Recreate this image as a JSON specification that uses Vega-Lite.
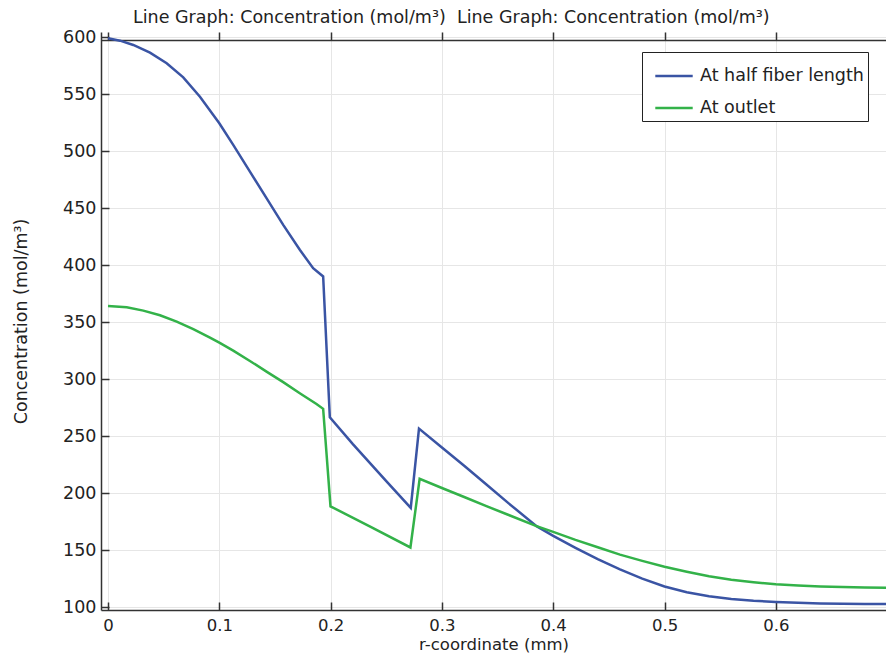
{
  "$schema": "https://vega.github.io/schema/vega-lite/v6.json",
  "width": 785,
  "height": 578,
  "autosize": "none",
  "padding": {"left": 101, "top": 32, "right": 0, "bottom": 44},
  "background": "white",
  "title": {
    "text": "Line Graph: Concentration (mol/m³) \u00a0Line Graph: Concentration (mol/m³)",
    "anchor": "start",
    "frame": "group",
    "dx": 32,
    "offset": 2,
    "font": "DejaVu Sans",
    "fontSize": 17.5,
    "fontWeight": "normal",
    "color": "#222222"
  },
  "config": {
    "view": {"stroke": null},
    "font": "DejaVu Sans",
    "axis": {
      "labelFont": "DejaVu Sans",
      "titleFont": "DejaVu Sans",
      "labelFontSize": 17.5,
      "titleFontSize": 17.5,
      "titleFontWeight": "normal",
      "labelColor": "#222222",
      "titleColor": "#222222",
      "gridColor": "#e6e6e6",
      "gridWidth": 1,
      "domainColor": "#333333",
      "domainWidth": 1.5,
      "tickColor": "#333333",
      "tickWidth": 1.5
    }
  },
  "data": {
    "values": [
      {"r": 0, "c": 599.3, "series": "At half fiber length"},
      {"r": 0.0108, "c": 597.2, "series": "At half fiber length"},
      {"r": 0.0227, "c": 593.4, "series": "At half fiber length"},
      {"r": 0.0377, "c": 586.7, "series": "At half fiber length"},
      {"r": 0.0527, "c": 577.4, "series": "At half fiber length"},
      {"r": 0.0676, "c": 565, "series": "At half fiber length"},
      {"r": 0.0826, "c": 548, "series": "At half fiber length"},
      {"r": 0.1, "c": 524.7, "series": "At half fiber length"},
      {"r": 0.1125, "c": 505.7, "series": "At half fiber length"},
      {"r": 0.1275, "c": 482.3, "series": "At half fiber length"},
      {"r": 0.1424, "c": 459, "series": "At half fiber length"},
      {"r": 0.1574, "c": 435.5, "series": "At half fiber length"},
      {"r": 0.1723, "c": 413.6, "series": "At half fiber length"},
      {"r": 0.1843, "c": 397.5, "series": "At half fiber length"},
      {"r": 0.1933, "c": 390.2, "series": "At half fiber length"},
      {"r": 0.1993, "c": 266.5, "series": "At half fiber length"},
      {"r": 0.22, "c": 243, "series": "At half fiber length"},
      {"r": 0.25, "c": 210.5, "series": "At half fiber length"},
      {"r": 0.272, "c": 187, "series": "At half fiber length"},
      {"r": 0.2794, "c": 256.6, "series": "At half fiber length"},
      {"r": 0.3, "c": 240, "series": "At half fiber length"},
      {"r": 0.32, "c": 224, "series": "At half fiber length"},
      {"r": 0.34, "c": 207.6, "series": "At half fiber length"},
      {"r": 0.36, "c": 191, "series": "At half fiber length"},
      {"r": 0.385, "c": 171, "series": "At half fiber length"},
      {"r": 0.4, "c": 162.5, "series": "At half fiber length"},
      {"r": 0.42, "c": 152, "series": "At half fiber length"},
      {"r": 0.44, "c": 142, "series": "At half fiber length"},
      {"r": 0.46, "c": 133, "series": "At half fiber length"},
      {"r": 0.48, "c": 125, "series": "At half fiber length"},
      {"r": 0.5, "c": 118, "series": "At half fiber length"},
      {"r": 0.52, "c": 113, "series": "At half fiber length"},
      {"r": 0.54, "c": 109.5, "series": "At half fiber length"},
      {"r": 0.56, "c": 107, "series": "At half fiber length"},
      {"r": 0.58, "c": 105.5, "series": "At half fiber length"},
      {"r": 0.6, "c": 104.5, "series": "At half fiber length"},
      {"r": 0.62, "c": 103.7, "series": "At half fiber length"},
      {"r": 0.64, "c": 103.2, "series": "At half fiber length"},
      {"r": 0.66, "c": 102.9, "series": "At half fiber length"},
      {"r": 0.68, "c": 102.7, "series": "At half fiber length"},
      {"r": 0.699, "c": 102.6, "series": "At half fiber length"},
      {"r": 0, "c": 364.3, "series": "At outlet"},
      {"r": 0.0168, "c": 363.1, "series": "At outlet"},
      {"r": 0.0317, "c": 360.2, "series": "At outlet"},
      {"r": 0.0467, "c": 356.1, "series": "At outlet"},
      {"r": 0.0617, "c": 350.5, "series": "At outlet"},
      {"r": 0.0766, "c": 343.9, "series": "At outlet"},
      {"r": 0.0916, "c": 336.5, "series": "At outlet"},
      {"r": 0.1, "c": 332.1, "series": "At outlet"},
      {"r": 0.1125, "c": 325.1, "series": "At outlet"},
      {"r": 0.1275, "c": 316, "series": "At outlet"},
      {"r": 0.1424, "c": 306.7, "series": "At outlet"},
      {"r": 0.1574, "c": 297.4, "series": "At outlet"},
      {"r": 0.1723, "c": 287.7, "series": "At outlet"},
      {"r": 0.1873, "c": 278.3, "series": "At outlet"},
      {"r": 0.1933, "c": 274, "series": "At outlet"},
      {"r": 0.1999, "c": 188.4, "series": "At outlet"},
      {"r": 0.236, "c": 170.3, "series": "At outlet"},
      {"r": 0.2717, "c": 152.3, "series": "At outlet"},
      {"r": 0.28, "c": 212.5, "series": "At outlet"},
      {"r": 0.3, "c": 204.5, "series": "At outlet"},
      {"r": 0.32, "c": 196.6, "series": "At outlet"},
      {"r": 0.34, "c": 188.6, "series": "At outlet"},
      {"r": 0.36, "c": 180.8, "series": "At outlet"},
      {"r": 0.385, "c": 171, "series": "At outlet"},
      {"r": 0.4, "c": 166, "series": "At outlet"},
      {"r": 0.42, "c": 159, "series": "At outlet"},
      {"r": 0.44, "c": 152.5, "series": "At outlet"},
      {"r": 0.46, "c": 146, "series": "At outlet"},
      {"r": 0.48, "c": 140.5, "series": "At outlet"},
      {"r": 0.5, "c": 135.4, "series": "At outlet"},
      {"r": 0.52, "c": 131, "series": "At outlet"},
      {"r": 0.54, "c": 127, "series": "At outlet"},
      {"r": 0.56, "c": 124, "series": "At outlet"},
      {"r": 0.58, "c": 121.8, "series": "At outlet"},
      {"r": 0.6, "c": 120, "series": "At outlet"},
      {"r": 0.62, "c": 118.8, "series": "At outlet"},
      {"r": 0.64, "c": 118, "series": "At outlet"},
      {"r": 0.66, "c": 117.5, "series": "At outlet"},
      {"r": 0.68, "c": 117.2, "series": "At outlet"},
      {"r": 0.699, "c": 117, "series": "At outlet"}
    ]
  },
  "layer": [
    {
      "mark": {"type": "line", "strokeWidth": 2.5, "clip": true},
      "encoding": {
        "x": {
          "field": "r",
          "type": "quantitative",
          "scale": {"domain": [-0.0063, 0.699], "nice": false, "zero": false},
          "axis": {
            "orient": "bottom",
            "title": "r-coordinate (mm)",
            "values": [0, 0.1, 0.2, 0.3, 0.4, 0.5, 0.6],
            "format": ".1~f",
            "ticks": false,
            "labelPadding": 7,
            "labelFontSize": 16.5,
            "titlePadding": 3,
            "titleFontSize": 16.5
          }
        },
        "y": {
          "field": "c",
          "type": "quantitative",
          "scale": {"domain": [97.4, 604.8], "nice": false, "zero": false},
          "axis": {
            "orient": "left",
            "title": "Concentration (mol/m³)",
            "values": [100, 150, 200, 250, 300, 350, 400, 450, 500, 550, 600],
            "ticks": false,
            "labelPadding": 5,
            "titlePadding": 32
          }
        },
        "color": {
          "field": "series",
          "type": "nominal",
          "scale": {"domain": ["At half fiber length", "At outlet"], "range": ["#3a54a4", "#33b249"]},
          "legend": {
            "title": null,
            "orient": "none",
            "legendX": 541,
            "legendY": 20,
            "symbolType": "stroke",
            "symbolSize": 1400,
            "symbolStrokeWidth": 2.5,
            "symbolOffset": 8,
            "labelFontSize": 17.5,
            "labelFont": "DejaVu Sans",
            "labelColor": "#222222",
            "labelLimit": 400,
            "labelOffset": 6,
            "rowPadding": 3,
            "strokeColor": "#222222",
            "fillColor": "white",
            "padding": 4
          }
        }
      }
    },
    {
      "mark": {"type": "line", "opacity": 0},
      "encoding": {
        "x": {
          "field": "r",
          "type": "quantitative",
          "axis": {
            "orient": "bottom",
            "title": null,
            "labels": false,
            "grid": false,
            "domain": false,
            "values": [0, 0.1, 0.2, 0.3, 0.4, 0.5, 0.6],
            "tickSize": 8,
            "offset": -8
          }
        },
        "y": {
          "field": "c",
          "type": "quantitative",
          "axis": {
            "orient": "left",
            "title": null,
            "labels": false,
            "grid": false,
            "domain": false,
            "values": [100, 150, 200, 250, 300, 350, 400, 450, 500, 550, 600],
            "tickSize": 8,
            "offset": -8
          }
        },
        "detail": {"field": "series"}
      }
    },
    {
      "mark": {"type": "line", "opacity": 0},
      "encoding": {
        "x": {
          "field": "r",
          "type": "quantitative",
          "axis": {
            "orient": "top",
            "title": null,
            "labels": false,
            "grid": false,
            "domainColor": "#333333",
            "values": [0, 0.1, 0.2, 0.3, 0.4, 0.5, 0.6],
            "tickSize": 8,
            "offset": -8
          }
        },
        "y": {"field": "c", "type": "quantitative", "axis": null},
        "detail": {"field": "series"}
      }
    }
  ],
  "resolve": {"axis": {"x": "independent", "y": "independent"}}
}
